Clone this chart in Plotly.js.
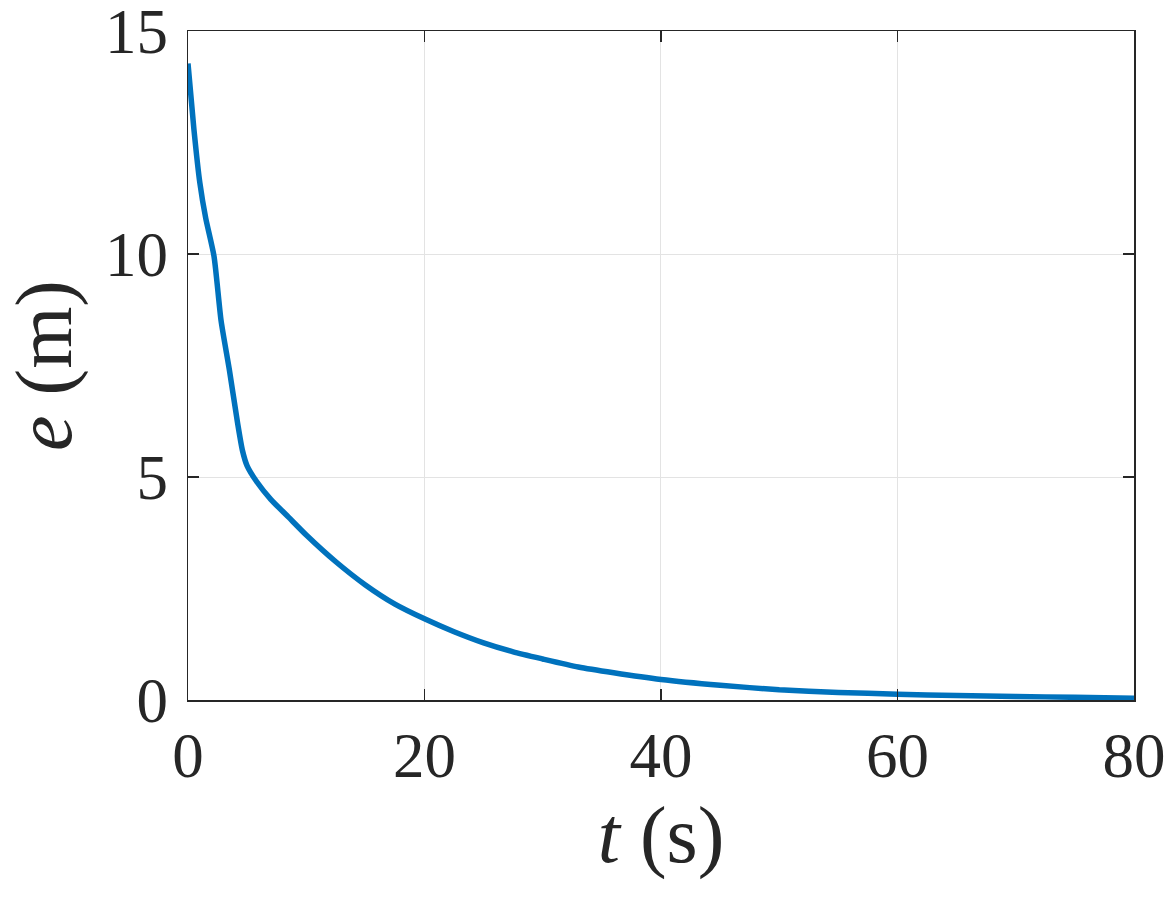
<!DOCTYPE html>
<html>
<head>
<meta charset="utf-8">
<script src="https://cdn.plot.ly/plotly-3.0.1.min.js"></script>
<style>html,body{margin:0;padding:0;background:#fff;}#chart{width:1170px;height:900px;}</style>
</head>
<body>
<div id="chart"></div>
<script>
const timeS = [0, 0.5, 1.0, 1.5, 2.2, 2.8, 3.5, 4.2, 4.6, 5.0, 5.8, 7, 8.5, 10, 12.5, 15, 17.5, 20, 22.5, 25, 27.5, 30, 33, 36, 40, 45, 50, 55, 60, 65, 70, 75, 80];
const errorM = [14.27, 12.8, 11.6, 10.8, 9.95, 8.5, 7.4, 6.2, 5.6, 5.25, 4.9, 4.5, 4.1, 3.7, 3.1, 2.58, 2.15, 1.82, 1.53, 1.28, 1.08, 0.92, 0.74, 0.61, 0.46, 0.33, 0.23, 0.17, 0.13, 0.10, 0.08, 0.06, 0.04];
const xTicks = [0, 20, 40, 60, 80];
const yTicks = [0, 5, 10, 15];

const fontFam = '"Liberation Serif", "Times New Roman", serif';
const axisCommon = {
  showline: true, mirror: 'ticks', linecolor: '#262626', linewidth: 1.5,
  ticks: 'inside', ticklen: 11, tickwidth: 1.5, tickcolor: '#262626',
  showgrid: true, gridcolor: '#e3e3e3', gridwidth: 1,
  zeroline: false, ticklabeloverflow: 'allow',
  tickfont: {family: fontFam, size: 63, color: '#262626'}
};
const layout = {
  width: 1170, height: 900,
  margin: {l: 188, r: 36, t: 31, b: 200},
  paper_bgcolor: '#fff', plot_bgcolor: '#fff',
  showlegend: false,
  xaxis: Object.assign({}, axisCommon, {
    range: [0, 80.001], tickvals: xTicks, ticktext: xTicks.map(String),
    title: {text: '<i>t</i> (s)', font: {family: fontFam, size: 80, color: '#262626'}, standoff: 8}
  }),
  yaxis: Object.assign({}, axisCommon, {
    range: [0, 15.001], tickvals: yTicks, ticktext: yTicks.map(String),
    ticklabelstandoff: 6,
    title: {text: '<i>e</i> (m)', font: {family: fontFam, size: 80, color: '#262626'}, standoff: 10}
  })
};
Plotly.newPlot('chart', [{
  x: timeS, y: errorM, type: 'scatter', mode: 'lines',
  line: {color: '#0072BD', width: 5.5, shape: 'spline', smoothing: 0.6}
}], layout, {staticPlot: true});
</script>
</body>
</html>
